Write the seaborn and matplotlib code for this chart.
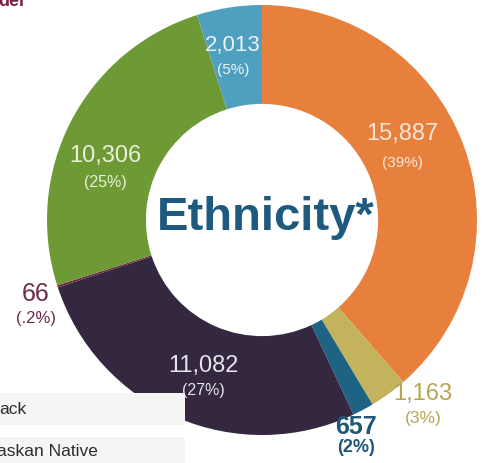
import matplotlib
matplotlib.use("Agg")
import matplotlib.pyplot as plt
import seaborn as sns
import numpy as np
from matplotlib.patches import Rectangle

sns.set_theme(style="white")
plt.rcParams['font.family'] = ['Liberation Sans', 'DejaVu Sans']

# ---- data ----
categories = ["White", "Two or More", "Asian", "Hispanic", "American Indian/Alaskan Native",
              "Black", "Other"]
counts = [15887, 1163, 657, 11082, 66, 10306, 2013]
count_labels = ["15,887", "1,163", "657", "11,082", "66", "10,306", "2,013"]
pct_labels = ["(39%)", "(3%)", "(2%)", "(27%)", "(.2%)", "(25%)", "(5%)"]
legend_labels = ["ack", "askan Native"]
title_fragment = "der"
center_title = "Ethnicity*"

# ---- styles ----
colors = ["#E8803D", "#C3B35C", "#1F6384", "#33283F", "#6E2444", "#6E9A36", "#4E9FC0"]
label_colors = ["#F6E6D8", "#B5A550", "#1E5876", "#E6E3EA", "#6B2A48", "#E9F0DA", "#EAF4F8"]
label_weights = ["normal", "normal", "bold", "normal", "normal", "normal", "normal"]
# label positions in pixel layout (x, y of number; percent placed below)
label_pos = [(402, 134), (423, 394), (356, 427), (203, 366), (36, 294), (105, 156), (233, 45)]
num_sizes = [17, 17, 18, 17, 18, 17, 16]
pct_sizes = [11, 12.5, 13, 11.5, 12, 11.5, 11]
pct_gap = [29, 24, 20, 24, 24, 26, 25]

W, H = 484, 463
fig = plt.figure(figsize=(W / 100, H / 100), dpi=100)
fig.patch.set_facecolor("white")

cx, cy, rx, ry = 262, 220, 215, 215
ax = fig.add_axes([(cx - rx) / W, (H - cy - ry) / H, 2 * rx / W, 2 * ry / H])
ax.pie(counts, colors=colors, startangle=90, counterclock=False,
       wedgeprops=dict(width=0.46, edgecolor="none"), radius=1.0)
ax.set_aspect("auto")
ax.set_xlim(-1, 1)
ax.set_ylim(-1, 1)
ax.axis("off")

# overlay axes in pixel coordinates for text
tx = fig.add_axes([0, 0, 1, 1], facecolor="none")
tx.set_xlim(0, W)
tx.set_ylim(H, 0)
tx.axis("off")

for i in range(len(counts)):
    x, y = label_pos[i]
    tx.text(x, y, count_labels[i], ha="center", va="center", fontsize=num_sizes[i],
            color=label_colors[i], fontweight=label_weights[i])
    tx.text(x, y + pct_gap[i], pct_labels[i], ha="center", va="center", fontsize=pct_sizes[i],
            color=label_colors[i], fontweight=label_weights[i])

tx.text(266, 218, center_title, ha="center", va="center", fontsize=34,
        color="#1E5A80", fontweight="bold")

# cropped legend rows
tx.add_patch(Rectangle((-5, 393), 190, 32, facecolor="#F5F5F3", edgecolor="none", zorder=0))
tx.add_patch(Rectangle((-5, 437), 190, 30, facecolor="#F5F5F3", edgecolor="none", zorder=0))
tx.text(-1, 409, legend_labels[0], ha="left", va="center", fontsize=12.5, color="#2E2E2E")
tx.text(-3, 452, legend_labels[1], ha="left", va="center", fontsize=12.5, color="#2E2E2E")

# cropped title fragment
tx.text(-2, 6, title_fragment, ha="left", va="baseline", fontsize=13,
        color="#7A1F45", fontweight="bold")

fig.savefig("out.png", dpi=100, facecolor="white")
